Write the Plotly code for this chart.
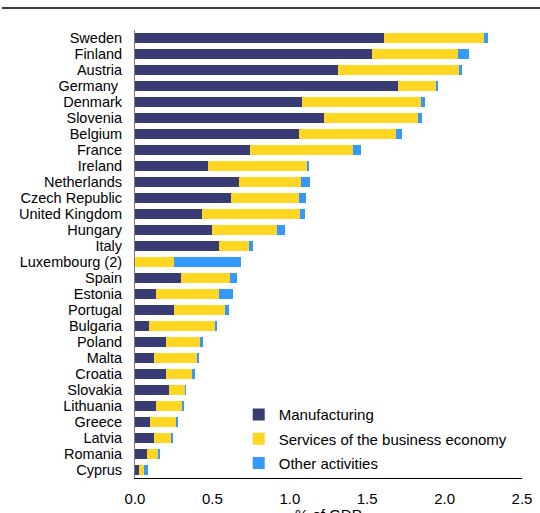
import plotly.graph_objects as go

countries = ["Sweden", "Finland", "Austria", "Germany\u00a0", "Denmark", "Slovenia", "Belgium",
             "France", "Ireland", "Netherlands", "Czech Republic", "United Kingdom", "Hungary",
             "Italy", "Luxembourg (2)", "Spain", "Estonia", "Portugal", "Bulgaria", "Poland",
             "Malta", "Croatia", "Slovakia", "Lithuania", "Greece", "Latvia", "Romania", "Cyprus"]

manufacturing = [1.61, 1.53, 1.31, 1.70, 1.08, 1.22, 1.06, 0.74, 0.47, 0.67, 0.62, 0.43, 0.50,
                 0.54, None, 0.30, 0.135, 0.25, 0.09, 0.20, 0.12, 0.20, 0.22, 0.135, 0.10,
                 0.125, 0.08, 0.026]
services = [0.645, 0.555, 0.78, 0.245, 0.77, 0.605, 0.625, 0.67, 0.64, 0.40, 0.44, 0.635, 0.415,
            0.195, 0.25, 0.315, 0.41, 0.33, 0.43, 0.22, 0.285, 0.17, 0.105, 0.175, 0.165,
            0.11, 0.07, 0.03]
other = [0.028, 0.073, 0.02, 0.015, 0.023, 0.026, 0.043, 0.047, 0.015, 0.063, 0.042, 0.032,
         0.056, 0.028, 0.436, 0.045, 0.088, 0.026, 0.009, 0.02, 0.006, 0.015, 0.004, 0.008,
         0.009, 0.01, 0.013, 0.026]

x_title = "% of GDP"

series = [
    ("Manufacturing", manufacturing, "#383c72"),
    ("Services of the business economy", services, "#ffd624"),
    ("Other activities", other, "#3399ff"),
]

fig = go.Figure()
for i, (name, vals, color) in enumerate(series):
    fig.add_trace(go.Bar(
        y=countries, x=vals, name=name, orientation="h",
        marker=dict(color=color, line=dict(width=0)),
        legendgroup=f"g{i}",
    ))

font = "Liberation Sans, Arial, sans-serif"
fig.update_layout(
    barmode="stack",
    bargap=0.35,
    width=540, height=513,
    autosize=False,
    margin=dict(l=135, r=18, t=30, b=35, autoexpand=False),
    paper_bgcolor="white", plot_bgcolor="white",
    font=dict(family=font, size=15, color="#000"),
    showlegend=True,
    legend=dict(x=0.268, y=0.178, xanchor="left", yanchor="top",
                bgcolor="rgba(0,0,0,0)", font=dict(size=15),
                traceorder="grouped", tracegroupgap=1.8),
    xaxis=dict(range=[0, 2.5], dtick=0.5, tickformat=".1f", showgrid=False,
               zeroline=False, showline=True, linecolor="#000", linewidth=1.3,
               ticks="", tickfont=dict(size=15), ticklabelstandoff=7, automargin=False),
    yaxis=dict(autorange="reversed", showgrid=False, showline=True, linecolor="#777",
               linewidth=1, ticks="", tickfont=dict(size=14.5), ticklabelstandoff=9,
               automargin=False,
               tickmode="array", tickvals=countries, ticktext=countries),
    annotations=[dict(text=x_title, xref="paper", yref="paper", x=0.5, y=-0.058,
                      xanchor="center", yanchor="top", showarrow=False,
                      font=dict(size=15, family=font, color="#000"))],
    shapes=[dict(type="line", xref="paper", yref="paper",
                 x0=-0.344, x1=1.05, y0=1.049, y1=1.049,
                 line=dict(color="#000", width=1.5))],
)

fig.write_html("out.html",
               config={"responsive": False, "displayModeBar": False},
               post_script="document.body.style.margin='0';document.body.style.overflow='hidden';")
